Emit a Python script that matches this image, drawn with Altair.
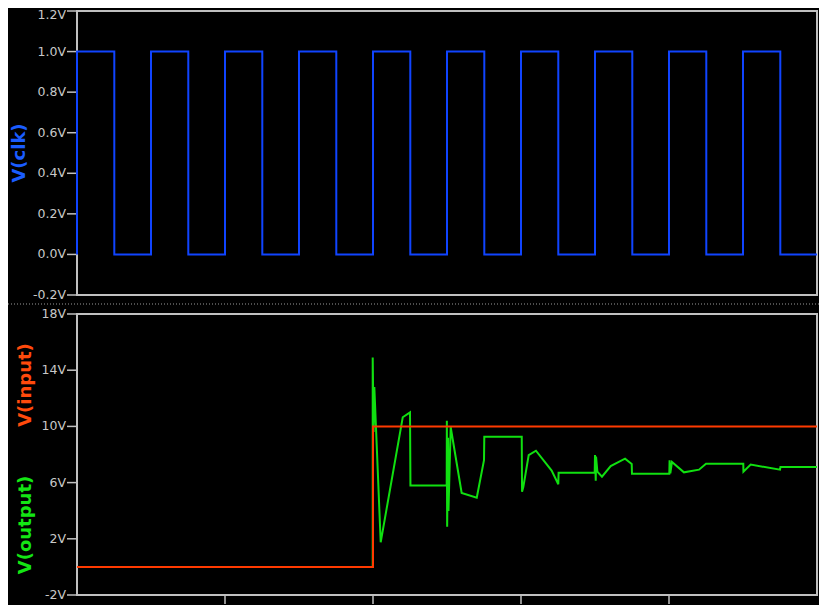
import altair as alt
import pandas as pd

# ---------------- data ----------------
# clock: rising / falling edge times (x units, ticks at 1..4), levels in V
clk_rise = [0.0, 0.5, 1.0, 1.5, 2.0, 2.5, 3.0, 3.5, 4.0, 4.5]
clk_fall = [0.252, 0.752, 1.252, 1.752, 2.252, 2.752, 3.252, 3.752, 4.252, 4.752]
clk_low, clk_high = 0.0, 1.0
t_end = 5.0

# V(input)
in_t = [0.0, 2.0, 2.0, 5.0]
in_v = [0.0, 0.0, 10.0, 10.0]

# V(output)
out_t = [0.0, 1.998, 1.998, 2.004, 2.009, 2.052, 2.201, 2.250, 2.253, 2.498,
         2.499, 2.501, 2.507, 2.510, 2.525, 2.599, 2.701, 2.750, 2.752, 3.005,
         3.007, 3.016, 3.052, 3.101, 3.207, 3.252, 3.254, 3.498, 3.500, 3.505,
         3.507, 3.516, 3.547, 3.606, 3.703, 3.748, 3.750, 4.002, 4.004, 4.009,
         4.020, 4.101, 4.203, 4.250, 4.502, 4.503, 4.552, 4.750, 4.753, 5.0]
out_v = [0.0, 0.0, 14.9, 9.6, 12.8, 1.75, 10.65, 11.0, 5.8, 5.8,
         10.4, 2.86, 9.2, 3.98, 9.94, 5.26, 4.93, 7.6, 9.27, 9.27,
         5.35, 5.71, 7.96, 8.27, 6.85, 5.88, 6.71, 6.71, 7.96, 6.14,
         7.85, 6.78, 6.42, 7.18, 7.70, 7.32, 6.63, 6.63, 7.59, 6.66,
         7.47, 6.73, 6.92, 7.35, 7.35, 6.78, 7.28, 6.92, 7.11, 7.11]

top_ticks = [-0.2, 0.0, 0.2, 0.4, 0.6, 0.8, 1.0, 1.2]
top_domain = [-0.2, 1.2]
bot_ticks = [-2, 2, 6, 10, 14, 18]
bot_domain = [-2, 18]
x_ticks = [1, 2, 3, 4]
x_domain = [0, 5]

# ---------------- layout / styling (pixels) ----------------
PL, PT, PR, PB = 69, 3, 2, 0          # plot origin on the page = (77, 11); svg 811 wide
W, H = 740, 594                        # svg reaches the bottom of the window
TOP_RANGE = [284, 0]                   # top panel: page y 11 .. 295
BOT_RANGE = [584, 303]                 # bottom panel: page y 314 .. 595
SEP_Y = 293                            # dotted separator, page y 304
TICK = 10
AX = "#c0c0c0"
LBL = "#c8c8c8"
BLUE, BLUE_LBL = "#1044ff", "#1a5cff"
ORANGE, ORANGE_LBL = "#ff3a00", "#ff4a0c"
GREEN, GREEN_LBL = "#10e010", "#14e614"
FONT = "DejaVu Sans"
LFS = 12.5

# ---------------- tables ----------------
clk_pts = []
for r, f in zip(clk_rise, clk_fall):
    clk_pts += [(r, clk_low), (r, clk_high), (f, clk_high), (f, clk_low)]
clk_pts.append((t_end, clk_low))
clk_df = pd.DataFrame(clk_pts, columns=["t", "v"])
clk_df["i"] = range(len(clk_df))

out_df = pd.DataFrame({"t": out_t, "v": out_v, "i": range(len(out_t))})
in_df = pd.DataFrame({"t": in_t, "v": in_v, "i": range(len(in_t))})
top_tick_df = pd.DataFrame({"v": top_ticks})
bot_tick_df = pd.DataFrame({"v": bot_ticks})
x_tick_df = pd.DataFrame({"t": x_ticks})
top_box = pd.DataFrame({"t0": [x_domain[0]], "t1": [x_domain[1]],
                        "v0": [top_domain[0]], "v1": [top_domain[1]]})
bot_box = pd.DataFrame({"t0": [x_domain[0]], "t1": [x_domain[1]],
                        "v0": [bot_domain[0]], "v1": [bot_domain[1]]})
one = pd.DataFrame({"a": [0]})

xsc = alt.Scale(domain=x_domain, nice=False, zero=False)
scA = alt.Scale(domain=top_domain, range=TOP_RANGE, nice=False, zero=False)
scB = alt.Scale(domain=bot_domain, range=BOT_RANGE, nice=False, zero=False)

X = lambda f: alt.X(f, type="quantitative", scale=xsc, axis=None)
YA = lambda f: alt.Y(f, type="quantitative", scale=scA, axis=None)
YB = lambda f: alt.Y(f, type="quantitative", scale=scB, axis=None)

# ---------------- frames ----------------
frame_top = alt.Chart(top_box).mark_rect(fillOpacity=0, stroke=AX, strokeWidth=2).encode(
    x=X("t0"), x2="t1", y=YA("v0"), y2="v1")
frame_bot = alt.Chart(bot_box).mark_rect(fillOpacity=0, stroke=AX, strokeWidth=2).encode(
    x=X("t0"), x2="t1", y=YB("v0"), y2="v1")

sep = alt.Chart(one).mark_rule(color="#9a9a9a", strokeDash=[1, 2], strokeWidth=1).encode(
    x=alt.value(-PL), x2=alt.value(W + PR), y=alt.value(SEP_Y))

# ---------------- y axes (ticks + labels) ----------------
ticks_top = alt.Chart(top_tick_df).mark_rule(color=AX, strokeWidth=1.5).encode(
    x=alt.value(-TICK), x2=alt.value(0), y=YA("v"))
ticks_bot = alt.Chart(bot_tick_df).mark_rule(color=AX, strokeWidth=1.5).encode(
    x=alt.value(-TICK), x2=alt.value(0), y=YB("v"))

lab_expr_top = "(datum.v < 0 ? '-' : '') + format(abs(datum.v), '.1f') + 'V'"
lab_expr_bot = "(datum.v < 0 ? '-' : '') + format(abs(datum.v), 'd') + 'V'"

text_kw = dict(align="right", baseline="middle", font=FONT, fontSize=LFS, color=LBL)
labels_top = alt.Chart(top_tick_df).transform_filter(
    f"datum.v < {max(top_ticks)}").transform_calculate(lab=lab_expr_top).mark_text(**text_kw).encode(
    x=alt.value(-TICK - 1), y=YA("v"), text="lab:N")
# topmost label sits flush below the frame edge, as in the reference
label_top_max = alt.Chart(top_tick_df).transform_filter(
    f"datum.v >= {max(top_ticks)}").transform_calculate(lab=lab_expr_top).mark_text(dy=4, **text_kw).encode(
    x=alt.value(-TICK - 1), y=YA("v"), text="lab:N")
labels_bot = alt.Chart(bot_tick_df).transform_calculate(lab=lab_expr_bot).mark_text(**text_kw).encode(
    x=alt.value(-TICK - 1), y=YB("v"), text="lab:N")

# ---------------- x ticks (bottom) ----------------
xticks = alt.Chart(x_tick_df).mark_rule(color=AX, strokeWidth=1.5).encode(
    x=X("t"), y=alt.value(BOT_RANGE[0]), y2=alt.value(BOT_RANGE[0] + 9))

# ---------------- traces ----------------
clk_line = alt.Chart(clk_df).mark_line(color=BLUE, strokeWidth=2).encode(
    x=X("t"), y=YA("v"), order="i:Q")
out_line = alt.Chart(out_df).mark_line(color=GREEN, strokeWidth=2).encode(
    x=X("t"), y=YB("v"), order="i:Q")
in_line = alt.Chart(in_df).mark_line(color=ORANGE, strokeWidth=2).encode(
    x=X("t"), y=YB("v"), order="i:Q")


def title(txt, color, x, y):
    return alt.Chart(pd.DataFrame({"s": [txt]})).mark_text(
        angle=270, font=FONT, fontSize=18, fontWeight="bold", color=color,
        align="center", baseline="middle",
    ).encode(text="s:N", x=alt.value(x), y=alt.value(y))


chart = alt.layer(
    sep, frame_top, frame_bot, ticks_top, ticks_bot, labels_top, label_top_max,
    labels_bot, xticks, clk_line, out_line, in_line,
    title("V(clk)", BLUE_LBL, -57, 142),
    title("V(input)", ORANGE_LBL, -51, 374),
    title("V(output)", GREEN_LBL, -51, 514),
).resolve_scale(y="independent").properties(
    width=W, height=H,
    autosize=alt.AutoSizeParams(type="none"),
    padding={"left": PL, "top": PT, "right": PR, "bottom": PB},
    background="black",
).configure_view(strokeWidth=0, fill="black")

chart.save("out.html", embed_options={"renderer": "svg", "actions": False})
